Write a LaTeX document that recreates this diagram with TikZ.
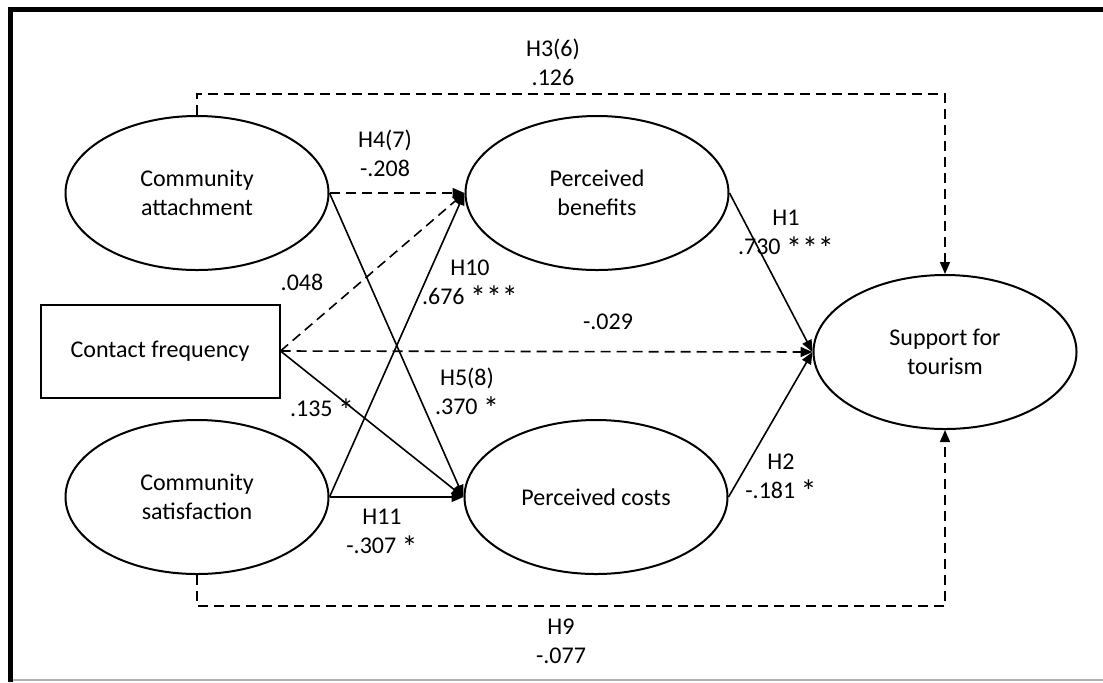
\documentclass[tikz,border=0pt]{standalone}
\usepackage{fontspec}
\setmainfont{Carlito}
\usetikzlibrary{shapes.geometric,arrows.meta}
\newcommand{\sigstar}{\raisebox{-0.4ex}{\fontsize{16}{16}\selectfont *}}

\begin{document}
\begin{tikzpicture}[x=0.5pt,y=-0.5pt,
    every node/.style={font=\fontsize{12}{14.5}\selectfont},
    construct/.style={draw,ellipse,line width=1pt,minimum width=131.5pt,minimum height=77pt,align=center,inner sep=0pt},
    observed/.style={draw,rectangle,line width=1pt,minimum width=119.5pt,minimum height=46.5pt,inner sep=0pt},
    effect/.style={line width=0.8pt,-{Triangle[length=6pt,width=5pt]}},
    weak/.style={effect,dash pattern=on 5pt off 3pt},
    coef/.style={align=center,inner sep=1pt}]
    \useasboundingbox (0,0) rectangle (1103,682);
    \fill (8,7) rectangle (13,682); % frame left
    \fill (8,7) rectangle (1103,12); % frame top
    \draw[gray!60,line width=0.6pt] (13,680) -- (1103,680); % frame bottom

    \node[construct] (CA) at (197,193) {Community\\attachment};
    \node[construct] (CS) at (197,497) {Community\\satisfaction};
    \node[observed] (CF) at (160,351) {Contact frequency};
    \node[construct] (PB) at (597,193) {Perceived\\benefits};
    \node[construct] (PC) at (596,497) {Perceived costs};
    \node[construct] (ST) at (945,352) {Support for\\tourism};

    \draw[weak] (CA.north) -- ++(0,-21) -| (ST.north); % H3
    \draw[weak] (CA.east) -- (PB.west); % H4
    \draw[effect] (CA.east) -- (PC.west); % H5
    \draw[effect] (CS.east) -- (PB.west); % H10
    \draw[effect] (CS.east) -- (PC.west); % H11
    \draw[weak] (CF.east) -- (PB.west); % contact -> benefits
    \draw[effect] (CF.east) -- (PC.west); % contact -> costs
    \draw[weak] (CF.east) -- (ST.west); % contact -> support
    \draw[effect] (PB.east) -- (ST.west); % H1
    \draw[effect] (PC.east) -- (ST.west); % H2
    \draw[weak] (CS.south) -- ++(0,31) -| (ST.south); % H9

    \node[coef] (h3) at (553,62) {H3(6)\\.126};
    \node[coef] (h4) at (385,153) {H4(7)\\-.208};
    \node[coef] (c1) at (302,282) {.048};
    \node[coef] (h10) at (470,284) {H10\\.676 \sigstar\sigstar\sigstar};
    \node[coef] (c3) at (608,322) {-.029};
    \node[coef] (h5) at (467,394) {H5(8)\\.370 \sigstar};
    \node[coef] (c2) at (322,410) {.135 \sigstar};
    \node[coef] (h11) at (382,534) {H11\\-.307 \sigstar};
    \node[coef] (h1) at (786,235) {H1\\.730 \sigstar\sigstar\sigstar};
    \node[coef] (h2) at (781,478) {H2\\-.181 \sigstar};
    \node[coef] (h9) at (561,641) {H9\\-.077};
\end{tikzpicture}
\end{document}
